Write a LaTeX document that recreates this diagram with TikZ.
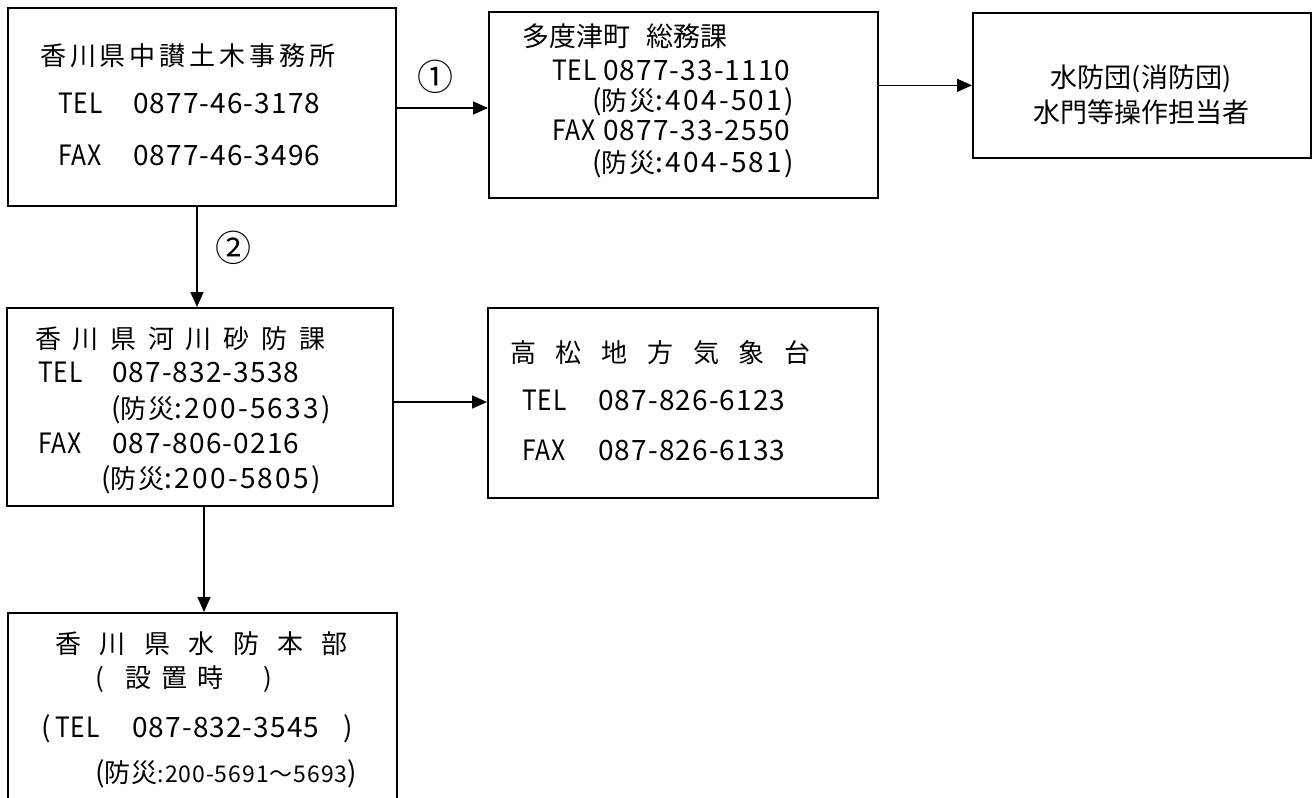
\documentclass[tikz,border=0pt]{standalone}
\usepackage{fontspec}
\usepackage{graphicx}
\setmainfont{Noto Sans CJK JP}
\usetikzlibrary{arrows.meta}
\newcommand\jsz[1]{\fontsize{#1}{#1}\selectfont}
\newcommand\cjk[1]{{\jsz{26}#1}}
\newcommand\lab[1]{\scalebox{0.88}[1]{#1}}
\begin{document}
\begin{tikzpicture}[x=1pt,y=-1pt,
  box/.style={draw, line width=1.7pt, anchor=north west, inner sep=0pt},
  txt/.style={anchor=west, inner sep=0pt, text height=20pt, text depth=0pt, font=\jsz{27}},
  ph/.style={txt, font={\jsz{28}\addfontfeatures{LetterSpace=4}}},
  bs/.style={txt, font={\jsz{28}\addfontfeatures{LetterSpace=8}}},
  ctxt/.style={anchor=center, inner sep=0pt, text height=20pt, text depth=0pt, font=\jsz{27}},
  ls/.style={font={\jsz{26}\addfontfeatures{LetterSpace=#1}}},
  arr/.style={line width=1.6pt, -{Triangle[length=15pt,width=13pt]}},
  lbl/.style={anchor=center, inner sep=0pt, font=\jsz{36}}]
\useasboundingbox (0,0) rectangle (1315,798);
\clip (0,0) rectangle (1315,798);

% boxes
\node[box, minimum width=388pt, minimum height=198pt] (A) at (7,7) {};
\node[box, minimum width=389pt, minimum height=186pt] (B) at (488,11) {};
\node[box, minimum width=338pt, minimum height=145pt] (C) at (972,12) {};
\node[box, minimum width=386pt, minimum height=198pt] (D) at (6,307) {};
\node[box, minimum width=390pt, minimum height=190pt] (E) at (487,307) {};
\node[box, minimum width=389pt, minimum height=240pt] (F) at (7,612) {};

% box A
\node[txt, ls=15] (a1) at (40,55) {香川県中讃土木事務所};
\node[ph] (a2) at (58,103) {\makebox[75pt][l]{\lab{TEL}}0877-46-3178};
\node[ph] (a3) at (58,155) {\makebox[75pt][l]{\lab{FAX}}0877-46-3496};

% box B
\node[txt, font=\jsz{27}] (b1) at (522,36) {多度津町\hspace{16pt}総務課};
\node[ph] (b2) at (552,70) {\makebox[51pt][l]{\lab{TEL}}0877-33-1110};
\node[bs] (b3) at (592,100) {(\cjk{防災}:404-501)};
\node[ph] (b4) at (552,130) {\makebox[51pt][l]{\lab{FAX}}0877-33-2550};
\node[bs] (b5) at (592,162) {(\cjk{防災}:404-581)};

% box C
\node[ctxt] (c1) at (1141,77) {水防団(消防団)};
\node[ctxt] (c2) at (1141,112) {水門等操作担当者};

% box D
\node[txt, ls=45] (d1) at (35,338) {香川県河川砂防課};
\node[ph] (d2) at (38,372) {\makebox[74pt][l]{\lab{TEL}}087-832-3538};
\node[bs] (d3) at (111,408) {(\cjk{防災}:200-5633)};
\node[ph] (d4) at (38,443) {\makebox[74pt][l]{\lab{FAX}}087-806-0216};
\node[bs] (d5) at (101,478) {(\cjk{防災}:200-5805)};

% box E
\node[txt, ls=76] (e1) at (510,352) {高松地方気象台};
\node[ph] (e2) at (522,400) {\makebox[76pt][l]{\lab{TEL}}087-826-6123};
\node[ph] (e3) at (522,450) {\makebox[76pt][l]{\lab{FAX}}087-826-6133};

% box F
\node[txt, ls=71] (f1) at (55,643) {香川県水防本部};
\node[txt, font=\jsz{26}] (f2) at (95,677) {\makebox[30pt][l]{(}\makebox[36pt][l]{設}\makebox[36pt][l]{置}\makebox[66pt][l]{時})};
\node[ph] (f3) at (41,727) {\makebox[14pt][l]{(}\makebox[77pt][l]{\lab{TEL}}\makebox[211pt][l]{087-832-3545})};
\node[ph] (f4) at (95,772) {(\cjk{防災}{\jsz{23}:200-5691～5693})};

% connectors
\draw[arr] (A.east |- 0,108) -- (B.west |- 0,108);
\node[lbl] (l1) at (435,77) {①};
\draw[arr] (B.east |- C.west) -- (C.west);
\draw[arr] (A.south -| 197,0) -- (D.north -| 197,0);
\node[lbl] (l2) at (233,248) {②};
\draw[arr] (D.east |- 0,402) -- (E.west |- 0,402);
\draw[arr] (D.south -| 204,0) -- (F.north -| 204,0);
\end{tikzpicture}
\end{document}
